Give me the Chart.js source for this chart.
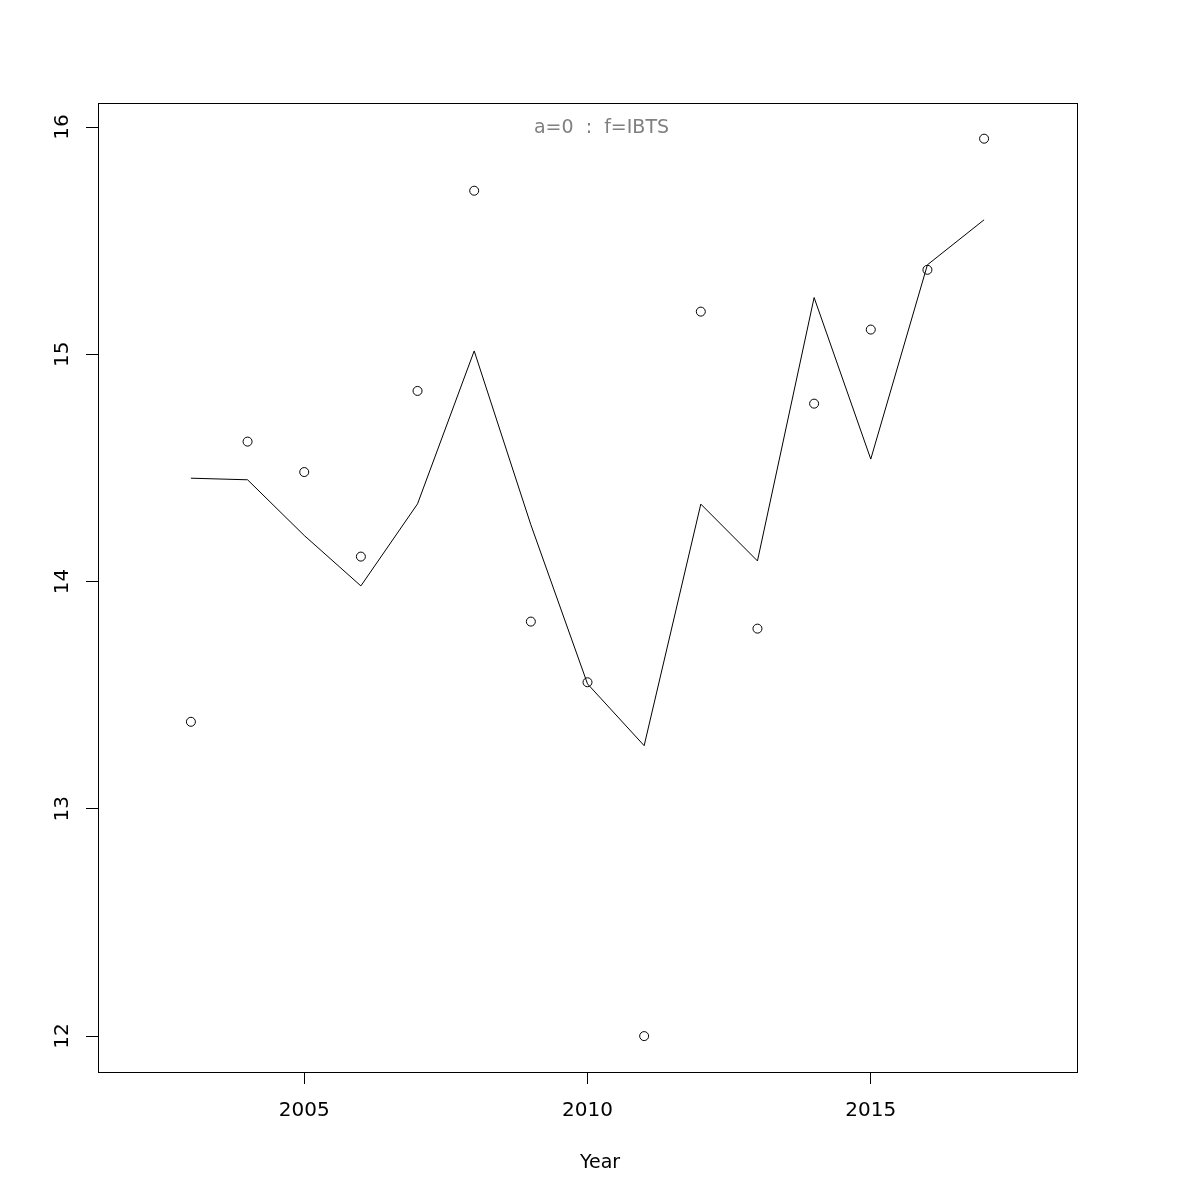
<!DOCTYPE html>
<html>
<head>
<meta charset="utf-8">
<script src="https://cdn.jsdelivr.net/npm/chart.js@4/dist/chart.umd.min.js"></script>
<style>
  html, body { margin: 0; padding: 0; background: #fff; }
  #wrap { width: 1200px; height: 1200px; }
</style>
</head>
<body>
<div id="wrap"><canvas id="fitChart"></canvas></div>
<script>
// data
const years = [2003, 2004, 2005, 2006, 2007, 2008, 2009, 2010, 2011, 2012, 2013, 2014, 2015, 2016, 2017];
const observed = [13.383, 14.616, 14.482, 14.110, 14.839, 15.720, 13.824, 13.557, 12.000, 15.188, 13.793, 14.783, 15.109, 15.372, 15.949];
const fitted = [14.455, 14.448, 14.203, 13.981, 14.342, 15.015, 14.250, 13.550, 13.278, 14.341, 14.091, 15.250, 14.539, 15.394, 15.592];
const xTicks = [2005, 2010, 2015];
const yTicks = [12, 13, 14, 15, 16];
const panelTitle = 'a=0  :  f=IBTS';
const xLabel = 'Year';

const fontFam = '"DejaVu Sans", sans-serif';

// box round the plot, grey title inside it, x axis label
const boxPlugin = {
    id: 'rbox',
    afterDraw(chart) {
        const a = chart.chartArea;
        const ctx = chart.ctx;
        ctx.save();
        ctx.strokeStyle = '#000';
        ctx.lineWidth = 1;
        ctx.strokeRect(Math.round(a.left) + 0.5, Math.round(a.top) + 0.5,
            Math.round(a.right - a.left), Math.round(a.bottom - a.top));
        ctx.textAlign = 'center';
        ctx.textBaseline = 'middle';
        ctx.fillStyle = '#808080';
        ctx.font = '19px ' + fontFam;
        ctx.fillText(panelTitle, (a.left + a.right) / 2 + 14, chart.scales.y.getPixelForValue(16) + 1);
        // R puts xlab centred on the device, a bit right of the plot centre
        ctx.fillStyle = '#000';
        ctx.fillText(xLabel, chart.width / 2, a.bottom + 91);
        ctx.restore();
    }
};

new Chart(document.getElementById('fitChart'), {
    type: 'scatter',
    data: {
        datasets: [
            {
                label: 'fitted',
                type: 'line',
                data: years.map((y, i) => ({ x: y, y: fitted[i] })),
                borderColor: '#000',
                borderWidth: 1,
                pointRadius: 0,
                fill: false,
                tension: 0
            },
            {
                label: 'observed',
                data: years.map((y, i) => ({ x: y, y: observed[i] })),
                showLine: false,
                pointStyle: 'circle',
                pointRadius: 4.5,
                borderColor: '#000',
                borderWidth: 1,
                backgroundColor: 'rgba(0,0,0,0)'
            }
        ]
    },
    options: {
        responsive: true,
        maintainAspectRatio: false,
        animation: false,
        layout: { padding: { top: 103, right: 123, left: 0, bottom: 0 } },
        plugins: {
            legend: { display: false },
            tooltip: { enabled: false }
        },
        scales: {
            x: {
                type: 'linear',
                min: 2001.36,
                max: 2018.64,
                afterBuildTicks: s => { s.ticks = xTicks.map(v => ({ value: v })); },
                afterFit: s => { s.height = 128; },
                border: { display: false },
                grid: { drawOnChartArea: false, drawTicks: true, tickLength: 12, color: '#000' },
                ticks: { color: '#000', font: { family: fontFam, size: 20 }, padding: 15, maxRotation: 0,
                    callback: v => String(v) }
            },
            y: {
                min: 11.842,
                max: 16.106,
                afterBuildTicks: s => { s.ticks = yTicks.map(v => ({ value: v })); },
                afterFit: s => { s.width = 98; },
                border: { display: false },
                grid: { drawOnChartArea: false, drawTicks: true, tickLength: 12, color: '#000' },
                ticks: { color: '#000', font: { family: fontFam, size: 20 }, padding: 10, minRotation: 90, maxRotation: 90,
                    crossAlign: 'center', callback: v => String(v) }
            }
        }
    },
    plugins: [boxPlugin]
});
</script>
</body>
</html>
